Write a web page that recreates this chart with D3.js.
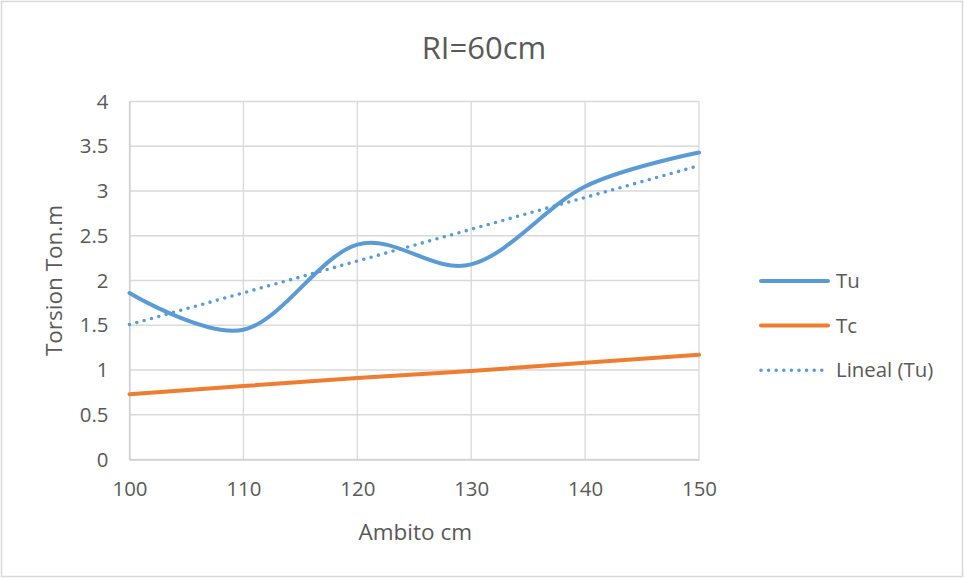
<!DOCTYPE html>
<html>
<head>
<meta charset="utf-8">
<script src="https://cdn.jsdelivr.net/npm/d3@7"></script>
<style>
  html, body { margin: 0; padding: 0; background: #fff; }
  svg { display: block; font-family: "Open Sans", "Noto Sans", sans-serif; }
</style>
</head>
<body>
<svg id="chart" width="964" height="578"></svg>
<script>
// Perimeter (Ambito, cm) and torsion values (ton·m)
const ambito = [100, 110, 120, 130, 140, 150];
const tu = [1.86, 1.45, 2.40, 2.18, 3.05, 3.43];
const tc = [0.73, 0.82, 0.91, 0.99, 1.08, 1.17];
const yTicks = [0, 0.5, 1, 1.5, 2, 2.5, 3, 3.5, 4];
const xTicks = [100, 110, 120, 130, 140, 150];

const svg = d3.select("#chart");
const W = 964, H = 578;
const plot = { left: 129.5, right: 699, top: 101.5, bottom: 459.5 };
const textColor = "#595959";
const gridColor = "#d9d9d9";

// Outer chart border
svg.append("rect")
  .attr("x", 1.5).attr("y", 1.5)
  .attr("width", W - 3).attr("height", H - 3)
  .attr("fill", "#fff")
  .attr("stroke", "#d9d9d9").attr("stroke-width", 1.5);

const x = d3.scaleLinear().domain([100, 150]).range([plot.left, plot.right]);
const y = d3.scaleLinear().domain([0, 4]).range([plot.bottom, plot.top]);

// Gridlines
const grid = svg.append("g");
grid.selectAll("line.h").data(yTicks).join("line")
  .attr("x1", plot.left).attr("x2", plot.right)
  .attr("y1", d => y(d)).attr("y2", d => y(d))
  .attr("stroke", gridColor).attr("stroke-width", 1.3);
grid.selectAll("line.v").data(xTicks).join("line")
  .attr("x1", d => x(d)).attr("x2", d => x(d))
  .attr("y1", plot.top).attr("y2", plot.bottom)
  .attr("stroke", gridColor).attr("stroke-width", 1.3);

// Axes (labels only, no tick marks)
const xAxis = svg.append("g")
  .attr("transform", `translate(0,${plot.bottom})`)
  .call(d3.axisBottom(x).tickValues(xTicks).tickSize(0).tickPadding(22));
const yAxis = svg.append("g")
  .attr("transform", `translate(${plot.left},0)`)
  .call(d3.axisLeft(y).tickValues(yTicks).tickSize(0).tickPadding(21)
    .tickFormat(d3.format("~g")));
[xAxis, yAxis].forEach(g => {
  g.select(".domain").attr("stroke", "#d0d0d0").attr("stroke-width", 1.3);
  g.selectAll("text")
    .attr("fill", textColor)
    .style("font-size", "20.4px")
    .style("font-family", '"Open Sans", sans-serif');
});

// Series lines
const line = d3.line()
  .x((d, i) => x(ambito[i]))
  .y(d => y(d));

svg.append("path")
  .datum(tc)
  .attr("d", line.curve(d3.curveLinear))
  .attr("fill", "none")
  .attr("stroke", "#ed7d31").attr("stroke-width", 4)
  .attr("stroke-linecap", "round");

svg.append("path")
  .datum(tu)
  .attr("d", line.curve(d3.curveCardinal.tension(0)))
  .attr("fill", "none")
  .attr("stroke", "#5b9bd5").attr("stroke-width", 4)
  .attr("stroke-linecap", "round");

// Linear trend line of Tu (least squares)
const mx = d3.mean(ambito), my = d3.mean(tu);
const slope = d3.sum(ambito, (a, i) => (a - mx) * (tu[i] - my)) /
              d3.sum(ambito, a => (a - mx) ** 2);
const intercept = my - slope * mx;
const trendX = d3.extent(ambito);
svg.append("path")
  .datum(trendX)
  .attr("d", d3.line().x(d => x(d)).y(d => y(intercept + slope * d)))
  .attr("fill", "none")
  .attr("stroke", "#5b9bd5").attr("stroke-width", 3.6)
  .attr("stroke-linecap", "round")
  .attr("stroke-dasharray", "0 7.6");

// Title
svg.append("text")
  .attr("x", 484).attr("y", 59)
  .attr("text-anchor", "middle")
  .attr("fill", textColor)
  .style("font-size", "31px")
  .text("RI=60cm");

// Axis titles
svg.append("text")
  .attr("x", (plot.left + plot.right) / 2 + 1).attr("y", 540)
  .attr("text-anchor", "middle")
  .attr("fill", textColor)
  .style("font-size", "22.5px")
  .text("Ambito cm");

svg.append("text")
  .attr("transform", `translate(62,${(plot.top + plot.bottom) / 2}) rotate(-90)`)
  .attr("text-anchor", "middle")
  .attr("fill", textColor)
  .style("font-size", "22.5px")
  .text("Torsion Ton.m");

// Legend
const legendItems = [
  { name: "Tu", color: "#5b9bd5", dash: null, w: 4 },
  { name: "Tc", color: "#ed7d31", dash: null, w: 4 },
  { name: "Lineal (Tu)", color: "#5b9bd5", dash: "0 7.6", w: 3.6 }
];
const legend = svg.append("g");
legendItems.forEach((it, i) => {
  const ly = 281 + i * 44.6;
  legend.append("line")
    .attr("x1", 761).attr("x2", 828)
    .attr("y1", ly).attr("y2", ly)
    .attr("stroke", it.color).attr("stroke-width", it.w)
    .attr("stroke-linecap", "round")
    .attr("stroke-dasharray", it.dash);
  legend.append("text")
    .attr("x", 836).attr("y", ly)
    .attr("dy", "0.35em")
    .attr("fill", textColor)
    .style("font-size", "20.4px")
    .text(it.name);
});
</script>
</body>
</html>
